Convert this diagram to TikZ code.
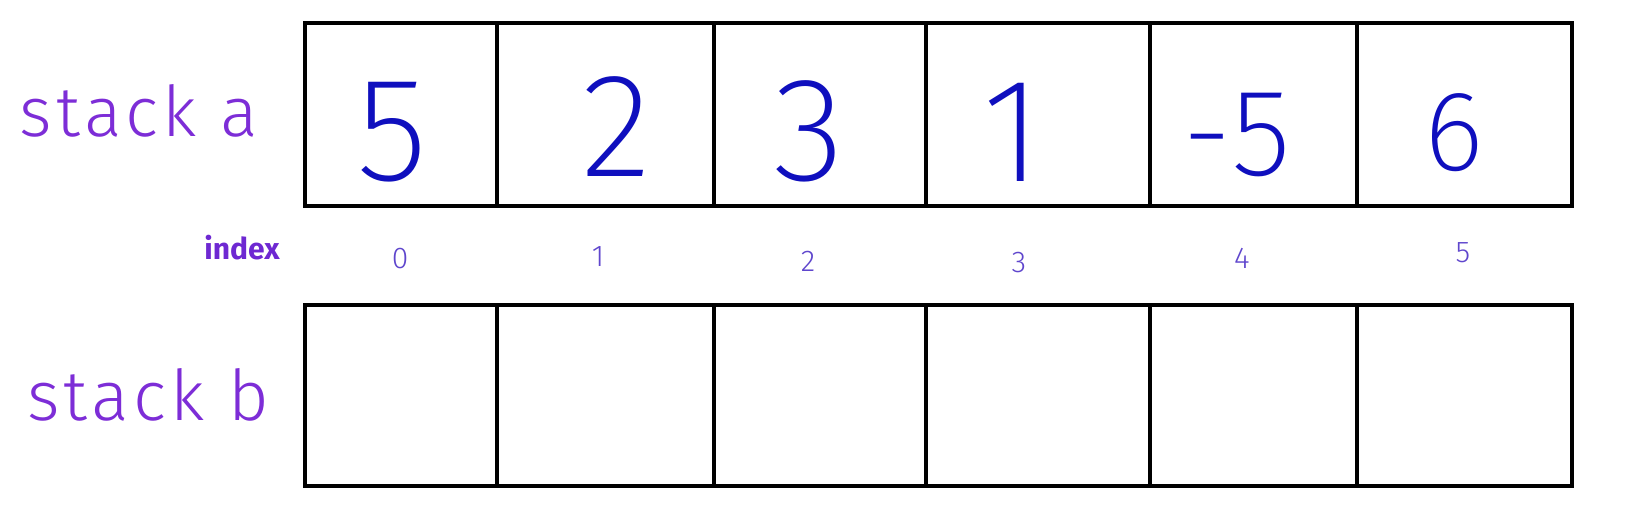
\documentclass[tikz,border=0pt]{standalone}
\usepackage{fontspec}
\setmainfont{Fira Sans}
\IfFontExistsTF{Fira Sans ExtraLight}
  {\newfontfamily\xlightf{Fira Sans ExtraLight}}
  {\IfFontExistsTF{Fira Sans Thin}
     {\newfontfamily\xlightf{Fira Sans Thin}}
     {\IfFontExistsTF{Fira Sans Light}
        {\newfontfamily\xlightf{Fira Sans Light}}
        {\newfontfamily\xlightf{Fira Sans}}}}
\IfFontExistsTF{Fira Sans Light}
  {\newfontfamily\lightf{Fira Sans Light}[LetterSpace=6]
   \newfontfamily\idxf{Fira Sans Light}}
  {\newfontfamily\lightf{Fira Sans}[LetterSpace=6]
   \newfontfamily\idxf{Fira Sans}}
\definecolor{lblpurple}{RGB}{125,45,215}
\definecolor{idxpurple}{RGB}{110,40,210}
\definecolor{digblue}{RGB}{15,15,190}
\definecolor{idxdig}{RGB}{95,70,205}
\tikzset{
  cell/.style={draw=black, line width=2.2pt, inner sep=0pt, outer sep=0pt},
  stacklbl/.style={anchor=base, text=lblpurple, font=\lightf\fontsize{35pt}{35pt}\selectfont, inner sep=0pt},
  bigdigit/.style={anchor=base, text=digblue, font=\xlightf\fontsize{74pt}{74pt}\selectfont, inner sep=0pt},
  idxlbl/.style={anchor=base, text=idxpurple, font=\bfseries\fontsize{15pt}{15pt}\selectfont, inner sep=0pt},
  idxdigit/.style={anchor=base, text=idxdig, font=\idxf\fontsize{15pt}{15pt}\selectfont, inner sep=0pt}
}
\begin{document}
\begin{tikzpicture}[x=0.5pt,y=-0.5pt]
\useasboundingbox[fill=white] (0,0) rectangle (1639,511);
% cells
\foreach \l/\r [count=\i from 0] in {305/497,497/714,714/926,926/1150,1150/1357,1357/1572}{
  \node[cell, minimum width={(\r-\l)*0.5pt}, minimum height={183*0.5pt}] (a\i) at ({(\l+\r)/2},114.5) {};
  \node[cell, minimum width={(\r-\l)*0.5pt}, minimum height={181*0.5pt}] (b\i) at ({(\l+\r)/2},395.5) {};
}
% labels
\node[stacklbl] (sa) at (139,136) {stack a};
\node[stacklbl] (sb) at (148,420) {stack b};
\node[idxlbl] (idx) at (242,259) {index};
% values
\node[bigdigit] (v0) at (392,180) {5};
\node[bigdigit] (v1) at (616,176) {2};
\node[bigdigit] (v2) at (809,180) {3};
\node[bigdigit] (v3) at (1013,181) {1};
\node[bigdigit, font=\xlightf\fontsize{62pt}{62pt}\selectfont] (v4) at (1237,175) {-5};
\node[bigdigit, font=\xlightf\fontsize{57pt}{57pt}\selectfont] (v5) at (1454,170) {6};
% indices
\node[idxdigit] (i0) at (400,268) {0};
\node[idxdigit] (i1) at (598,266) {1};
\node[idxdigit] (i2) at (808,271) {2};
\node[idxdigit] (i3) at (1019,272) {3};
\node[idxdigit] (i4) at (1242,268) {4};
\node[idxdigit] (i5) at (1463,262) {5};
\end{tikzpicture}
\end{document}
